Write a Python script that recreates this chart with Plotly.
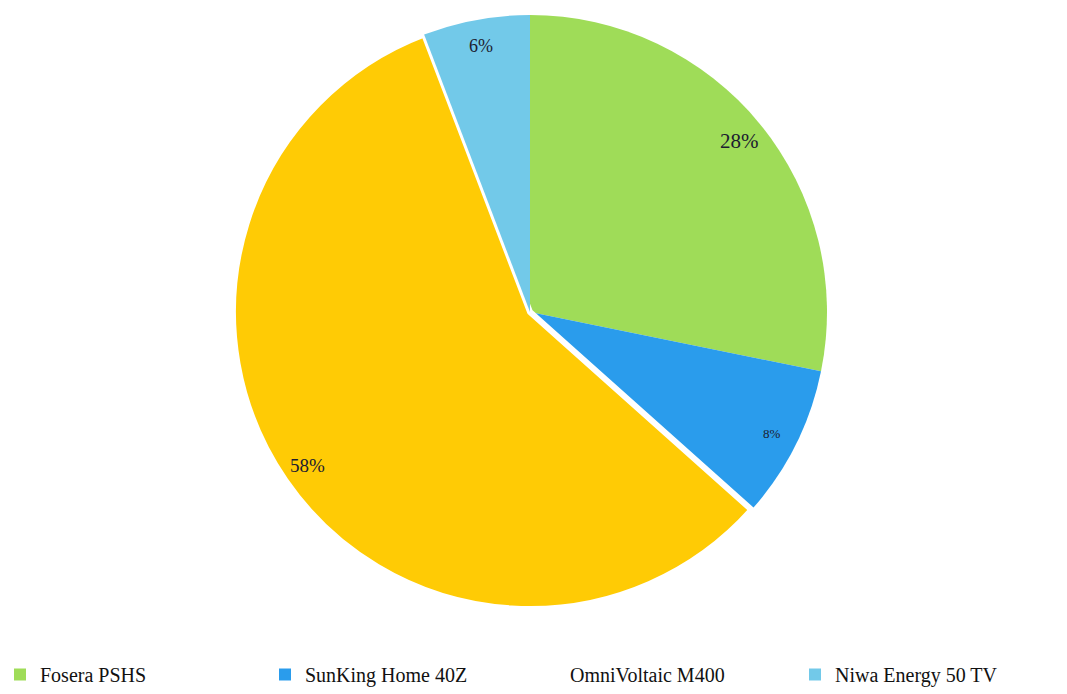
import math
import plotly.graph_objects as go

labels = ["Fosera PSHS", "SunKing Home 40Z", "OmniVoltaic M400", "Niwa Energy 50 TV"]
values = [28.2, 8.4, 57.6, 5.8]
colors = ["#9fdc58", "#2a9cec", "#ffcb05", "#72c9e9"]
legend_colors = ["#9fdc58", "#2a9cec", "rgba(0,0,0,0)", "#72c9e9"]
text_sizes = [21, 13, 19, 18]
line_widths = [0, 0, 6, 0]

W, H = 1067, 694
cx, cy, R = 530, 312, 297
label_r = 0.91 * R
serif = "Liberation Serif, DejaVu Serif, serif"

fig = go.Figure()
fig.add_trace(go.Pie(
    labels=labels, values=values, sort=False, direction="clockwise", rotation=0,
    marker=dict(colors=colors, line=dict(color="white", width=line_widths)),
    textinfo="none", showlegend=False, hoverinfo="label+percent",
    domain=dict(x=[(cx - R) / W, (cx + R) / W], y=[(H - cy - R) / H, (H - cy + R) / H]),
))
for name, col in zip(labels, legend_colors):
    fig.add_trace(go.Scatter(
        x=[None], y=[None], mode="markers", name=name,
        marker=dict(symbol="square", size=12, color=col),
    ))

# percentage labels at each slice's mid-angle, derived from the values
total = sum(values)
cum = 0.0
for v, fs in zip(values, text_sizes):
    mid = (cum + v / 2) / total * 2 * math.pi
    cum += v
    px = cx + label_r * math.sin(mid)
    py = cy - label_r * math.cos(mid)
    fig.add_annotation(
        x=px / W, y=(H - py) / H, xref="paper", yref="paper",
        text=f"{round(v / total * 100)}%", showarrow=False,
        font=dict(family=serif, size=fs, color="#1c1c30"),
        xanchor="center", yanchor="middle",
    )

fig.update_layout(
    width=W, height=H, margin=dict(l=0, r=0, t=0, b=0, autoexpand=False),
    paper_bgcolor="white", plot_bgcolor="white",
    xaxis=dict(visible=False), yaxis=dict(visible=False),
    legend=dict(orientation="h", x=0, y=0, xanchor="left", yanchor="bottom",
                entrywidth=220, itemwidth=30,
                font=dict(family=serif, size=20, color="#111111")),
)
fig.write_html("out.html")
